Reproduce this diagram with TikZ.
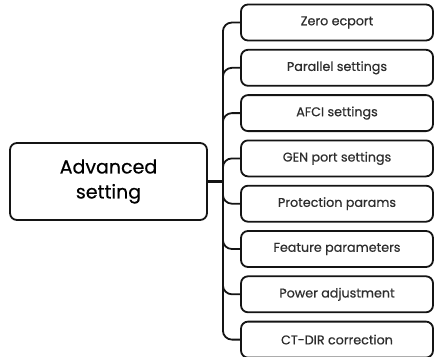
\documentclass[tikz,border=0pt]{standalone}
\usepackage{fontspec}
\setmainfont{Poppins}[FakeBold=0.5]
\usetikzlibrary{positioning, calc}
\definecolor{mydark}{RGB}{20,20,20}
\definecolor{mytext}{RGB}{45,45,45}
\tikzset{
  mainbox/.style={rectangle, draw=mydark, fill=white, minimum width=197pt,
    minimum height=77pt, align=center, font=\fontsize{19}{25}\selectfont,
    text=black, rounded corners=7pt, line width=1.8pt},
  itembox/.style={rectangle, draw=mydark, fill=white, minimum width=192pt,
    minimum height=36pt, align=center, font=\fontsize{12.7}{15}\selectfont,
    text=mytext, rounded corners=7pt, line width=1.8pt},
  branch/.style={line width=1.8pt, color=mydark, rounded corners=9pt},
  trunk/.style={line width=3pt, color=mydark}
}
\begin{document}
\begin{tikzpicture}[x=1pt, y=-1pt]
  \useasboundingbox (0,0) rectangle (435,356);
  \node[mainbox] (adv) at (108.5,181.5) {Advanced\\setting};
  \node[itembox] (zero) at (337,22.5) {Zero ecport};
  \node[itembox, below=7.5pt of zero] (parallel) {Parallel settings};
  \node[itembox, below=7.5pt of parallel] (afci) {AFCI settings};
  \node[itembox, below=7.5pt of afci] (genport) {GEN port settings};
  \node[itembox, below=7.5pt of genport] (protect) {Protection params};
  \node[itembox, below=7.5pt of protect] (feature) {Feature parameters};
  \node[itembox, below=7.5pt of feature] (power) {Power adjustment};
  \node[itembox, below=7.5pt of power] (ctdir) {CT-DIR correction};

  \coordinate (hub) at ($(adv.east)+(15,0)$);
  \draw[trunk] (adv.east) -- (hub);

  % branches to the right column
  \foreach \b in {zero, parallel, afci, genport, protect, feature, power, ctdir}
    \draw[branch] (\b.west) -| (hub);
\end{tikzpicture}
\end{document}
